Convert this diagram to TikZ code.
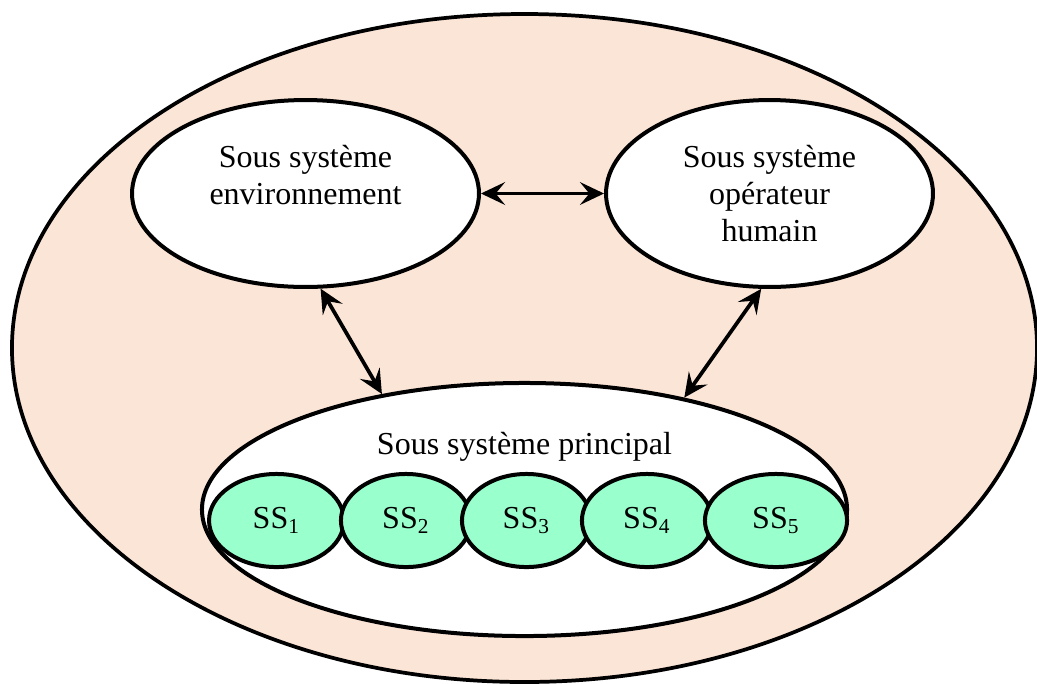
\documentclass[tikz,border=0pt]{standalone}
\usepackage{fontspec}
\setmainfont{Liberation Serif}
\usetikzlibrary{shapes.geometric,arrows.meta}
\definecolor{peche}{RGB}{251,229,214}
\definecolor{menthe}{RGB}{153,255,204}
\tikzset{
  sousys/.style={ellipse, draw, line width=1.5pt, fill=white, align=center,
    inner sep=0pt, font=\fontsize{12}{13.9}\selectfont},
  ssbox/.style={ellipse, draw, line width=1.5pt, fill=menthe, inner sep=0pt,
    minimum height=34.9pt, font=\fontsize{12}{13.9}\selectfont},
  lien/.style={{Stealth[length=9pt,width=8.5pt,inset=3.5pt]}-{Stealth[length=9pt,width=8.5pt,inset=3.5pt]},
    line width=1.4pt}
}
\begin{document}
\begin{tikzpicture}[x=0.375pt,y=-0.375pt]
      \useasboundingbox (0,0) rectangle (1037,683);

      \node[ellipse, draw, line width=1.4pt, fill=peche,
        minimum width=384.4pt, minimum height=250.5pt] (global) at (524.5,348) {};

      \node[sousys, minimum width=130.1pt, minimum height=70.1pt] (env) at (305.5,193.5)
        {Sous système\\environnement\\~};
      \node[sousys, minimum width=122.6pt, minimum height=70.1pt] (oper) at (769.5,193.5)
        {Sous système\\opérateur\\humain};
      \node[sousys, minimum width=241.9pt, minimum height=94.9pt] (princ) at (524.5,509.5) {};
      \node[font=\fontsize{12}{13.9}\selectfont] (titre) at (524.5,447) {Sous système principal};

      \foreach \i/\cx/\w in {1/276.5/50.6, 2/406/48.8, 3/526.5/48.4, 4/647/48.8, 5/776/53.3}
        \node[ssbox, minimum width=\w pt] (ss\i) at (\cx,520.5) {SS\textsubscript{\i}};

      \draw[lien] (env.east) to[line to] (oper.west);
      \draw[lien] (env.-81)  to[line to] (princ.141);
      \draw[lien] (oper.-95) to[line to] (princ.35);
\end{tikzpicture}
\end{document}
